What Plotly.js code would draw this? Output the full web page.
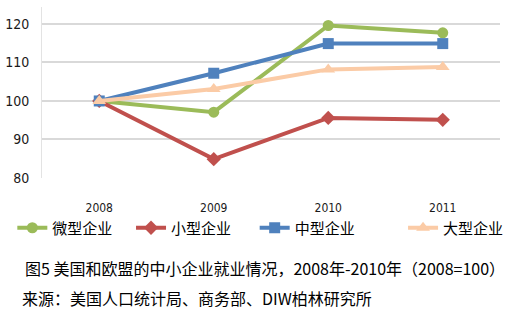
<!DOCTYPE html>
<html>
<head>
<meta charset="utf-8">
<script src="https://cdn.plot.ly/plotly-3.0.1.min.js"></script>
<style>
html,body{margin:0;padding:0;background:#fff;}
#chart{width:516px;height:322px;}
</style>
</head>
<body>
<div id="chart"></div>
<script>
const years = ['2008', '2009', '2010', '2011'];
const seriesNames = ['微型企业', '小型企业', '中型企业', '大型企业'];
const micro = [100, 97.1, 119.6, 117.7];
const small = [100, 84.9, 95.6, 95.1];
const medium = [100, 107.2, 114.9, 114.9];
const large = [100, 103.1, 108.2, 108.8];
const yTicks = [80, 90, 100, 110, 120];
const caption1 = '图5 美国和欧盟的中小企业就业情况，2008年-2010年（2008=100）';
const caption2 = '来源：美国人口统计局、商务部、DIW柏林研究所';

const colors = ['#9BBB59', '#C0504D', '#4F81BD', '#FBCBA6'];
const symbols = ['circle', 'diamond', 'square', 'triangle-up'];
const allSeries = [micro, small, medium, large];
const legendIds = ['legend', 'legend2', 'legend3', 'legend4'];

const traces = allSeries.map((vals, i) => ({
  type: 'scatter',
  mode: 'lines+markers',
  x: years,
  y: vals,
  name: seriesNames[i],
  legend: legendIds[i],
  line: {color: colors[i], width: 4},
  marker: {color: colors[i], symbol: symbols[i], size: i === 3 ? 12 : 11},
  cliponaxis: false
}));

const L = 42, R = 505, T = 7, B = 178;
const W = R - L, H = B - T;
const px2x = p => (p - L) / W;
const px2y = p => (B - p) / H;

const legendFont = {family: '"Noto Sans CJK SC", "Noto Sans", sans-serif', size: 15, color: '#000'};
const legendStarts = [12, 132, 257, 407];
const layout = {
  width: 516, height: 322,
  margin: {l: L, r: 516 - R, t: T, b: 322 - B},
  paper_bgcolor: '#fff', plot_bgcolor: '#fff',
  showlegend: true,
  xaxis: {
    type: 'category',
    range: [-0.5, 3.5],
    showgrid: false, zeroline: false, showline: false,
    ticks: 'outside', ticklen: 19, tickcolor: 'rgba(0,0,0,0)',
    tickfont: {family: '"Liberation Sans Narrow", "DejaVu Sans Condensed", "Roboto", sans-serif', size: 12, color: '#1a1a1a'}
  },
  yaxis: {
    range: [80, 124.4],
    tickvals: yTicks,
    showgrid: true, gridcolor: '#D9D9D9', gridwidth: 2,
    zeroline: false,
    showline: true, linecolor: '#E3E3E3', linewidth: 1,
    ticks: 'outside', ticklen: 9, tickcolor: 'rgba(0,0,0,0)',
    tickfont: {family: '"Liberation Sans Narrow", "DejaVu Sans Condensed", "Roboto", sans-serif', size: 14, color: '#1a1a1a'}
  },
  annotations: [
    {text: caption1, xref: 'paper', yref: 'paper', x: px2x(23), y: px2y(268), xanchor: 'left', yanchor: 'middle', showarrow: false,
     font: {family: '"Noto Sans CJK SC", sans-serif', size: 16, color: '#000'}},
    {text: caption2, xref: 'paper', yref: 'paper', x: px2x(20), y: px2y(298), xanchor: 'left', yanchor: 'middle', showarrow: false,
     font: {family: '"Noto Sans CJK SC", sans-serif', size: 16, color: '#000'}}
  ]
};
legendIds.forEach((id, i) => {
  layout[id] = {
    orientation: 'h', x: px2x(legendStarts[i]), xanchor: 'left',
    y: px2y(228), yanchor: 'middle',
    font: legendFont, bgcolor: 'rgba(0,0,0,0)',
    itemwidth: 30, tracegroupgap: 0
  };
});

Plotly.newPlot('chart', traces, layout, {displayModeBar: false, staticPlot: true});
</script>
</body>
</html>
